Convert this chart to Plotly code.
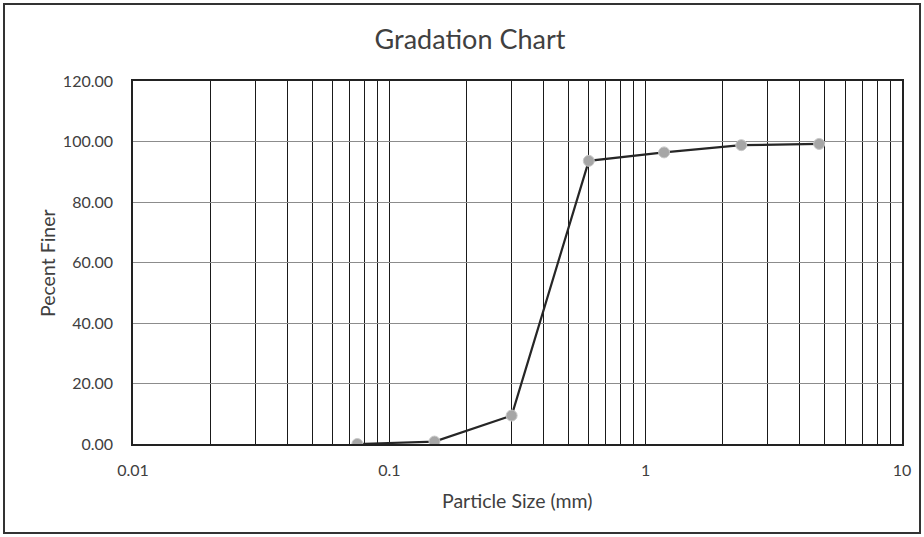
import plotly.graph_objects as go

sizes_mm = [0.075, 0.15, 0.3, 0.6, 1.18, 2.36, 4.75]
percent_finer = [0.0, 0.8, 9.4, 93.6, 96.4, 98.8, 99.2]
x_tick_vals = [0.01, 0.1, 1, 10]
x_tick_text = ["0.01", "0.1", "1", "10"]

W, H = 924, 537
L, R, T, B = 133, 22, 81, 93
pw, ph = W - L - R, H - T - B

def px(xp):
    return (xp - L) / pw

def py(yp):
    return (H - B - yp) / ph

fig = go.Figure()
fig.add_trace(go.Scatter(
    x=sizes_mm, y=percent_finer, mode="lines+markers",
    line=dict(color="#262626", width=2.2),
    marker=dict(size=11, color="#a6a6a6", line=dict(color="#c8c8c8", width=1)),
    showlegend=False,
))

font = "Lato, 'Open Sans', sans-serif"
txt = "#404040"
fig.update_layout(
    width=W, height=H,
    margin=dict(l=L, r=R, t=T, b=B, autoexpand=False),
    paper_bgcolor="white", plot_bgcolor="white",
    font=dict(family=font, color=txt),
    title=dict(text="Gradation Chart", x=470 / W, xref="container", xanchor="center",
               y=1 - 40 / H, yref="container", yanchor="middle",
               font=dict(size=27, color=txt, family=font)),
    xaxis=dict(
        type="log", range=[-2, 1],
        tickvals=x_tick_vals, ticktext=x_tick_text,
        showgrid=True, gridcolor="#1a1a1a", gridwidth=1.3,
        minor=dict(showgrid=True, gridcolor="#1a1a1a", gridwidth=1.3, dtick="D1"),
        showline=True, linecolor="#222222", linewidth=1.5, mirror=True,
        ticks="", ticklabelstandoff=11,
        tickfont=dict(size=16, color=txt),
        zeroline=False, automargin=False,
    ),
    yaxis=dict(
        range=[0, 120], dtick=20, tickformat=".2f",
        showgrid=True, gridcolor="#8c8c8c", gridwidth=1.2,
        showline=True, linecolor="#222222", linewidth=1.5, mirror=True,
        ticks="", ticklabelstandoff=15,
        tickfont=dict(size=16, color=txt),
        zeroline=False, automargin=False,
    ),
)

fig.add_annotation(text="Particle Size (mm)", xref="paper", yref="paper",
                   x=px(517), y=py(500), xanchor="center", yanchor="middle",
                   showarrow=False, font=dict(size=19.5, color=txt, family=font))
fig.add_annotation(text="Pecent Finer", xref="paper", yref="paper",
                   x=px(47), y=py(263), xanchor="center", yanchor="middle", textangle=-90,
                   showarrow=False, font=dict(size=19.5, color=txt, family=font))

# outer chart frame
fig.add_shape(type="rect", xref="paper", yref="paper",
              x0=px(4), x1=px(920), y0=py(533), y1=py(4),
              line=dict(color="#333333", width=2), layer="below")

fig.write_html("out.html", config={"displayModeBar": False},
               post_script="document.body.style.margin='0';document.body.style.overflow='hidden';")
